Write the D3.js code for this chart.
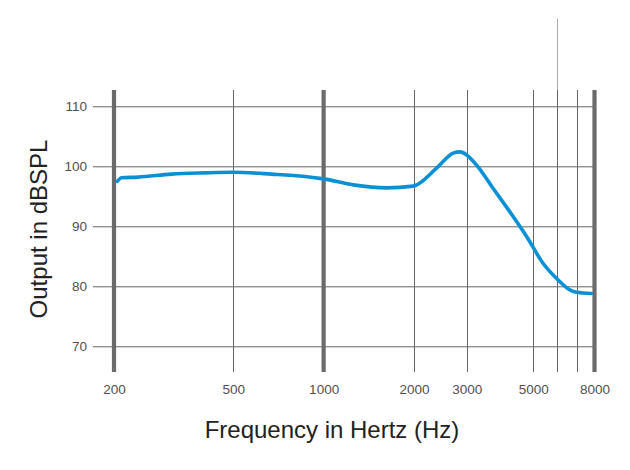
<!DOCTYPE html>
<html>
<head>
<meta charset="utf-8">
<script src="https://cdn.jsdelivr.net/npm/d3@7"></script>
<style>
  html, body { margin: 0; padding: 0; background: #fff; }
  svg { display: block; font-family: "Liberation Sans", Arial, Helvetica, sans-serif; }
</style>
</head>
<body>
<svg id="chart" width="630" height="470"></svg>
<script>
// ---- data ----
const freqHz = [205, 212, 241, 311, 402, 500, 671, 866, 1000, 1256, 1622, 1990, 2380, 2704, 2846, 2998, 3236, 3676, 4178, 4750, 5396, 5980, 6622, 6970, 7820];
const outputDb = [97.5, 98.1, 98.2, 98.7, 98.9, 99.0, 98.7, 98.3, 97.9, 96.9, 96.4, 96.7, 99.7, 102.2, 102.4, 101.9, 100.2, 96.3, 92.4, 88.3, 83.8, 81.3, 79.4, 79.0, 78.8];
const xTickValues = [200, 500, 1000, 2000, 3000, 5000, 8000];
const xThickLines = [200, 1000, 8000];
const xThinLines = [500, 2000, 3000, 5000, 6000, 7000];
const yTickValues = [70, 80, 90, 100, 110];
const xTitle = "Frequency in Hertz (Hz)";
const yTitle = "Output in dBSPL";

// ---- layout ----
const svg = d3.select("#chart");
const x = d3.scaleLog().domain([200, 8000]).range([114, 594.5]);
const y = d3.scaleLinear().domain([70, 110]).range([346.3, 106.3]);
const plotTop = 90, plotBottom = 372, gridLeft = 93, gridRight = 593;

// horizontal grid via axis
const yAxis = d3.axisLeft(y).tickValues(yTickValues).tickSize(-(gridRight - gridLeft)).tickPadding(6);
const gy = svg.append("g").attr("transform", `translate(${gridLeft},0)`).call(yAxis);
gy.select(".domain").remove();
gy.selectAll(".tick line").attr("stroke", "#666").attr("stroke-width", 1);
gy.selectAll(".tick text").attr("fill", "#505050").attr("font-size", 13.5)
  .attr("font-family", "'Liberation Sans', Arial, sans-serif");

// thin vertical lines
svg.append("g").selectAll("line").data(xThinLines).join("line")
  .attr("x1", d => Math.round(x(d)) + 0.5).attr("x2", d => Math.round(x(d)) + 0.5)
  .attr("y1", plotTop).attr("y2", plotBottom)
  .attr("stroke", "#666").attr("stroke-width", 1);

// the 6000 Hz line extends above the plot in lighter gray
svg.append("line")
  .attr("x1", Math.round(x(6000)) + 0.5).attr("x2", Math.round(x(6000)) + 0.5)
  .attr("y1", 19).attr("y2", plotTop)
  .attr("stroke", "#aaa").attr("stroke-width", 1);

// thick vertical lines
svg.append("g").selectAll("line").data(xThickLines).join("line")
  .attr("x1", d => x(d)).attr("x2", d => x(d))
  .attr("y1", plotTop).attr("y2", plotBottom)
  .attr("stroke", "#6b6b6b").attr("stroke-width", 4.2);

// x tick labels via axis
const xAxis = d3.axisBottom(x).tickValues(xTickValues).tickFormat(d3.format("d")).tickSize(0).tickPadding(0);
const gx = svg.append("g").attr("transform", `translate(0,${plotBottom})`).call(xAxis);
gx.select(".domain").remove();
gx.selectAll(".tick text").attr("fill", "#505050").attr("font-size", 13.5).attr("dy", 0).attr("y", 21.5)
  .attr("font-family", "'Liberation Sans', Arial, sans-serif");

// curve
const line = d3.line().x((d, i) => x(freqHz[i])).y(d => y(d)).curve(d3.curveMonotoneX);
svg.append("path").datum(outputDb).attr("d", line)
  .attr("fill", "none").attr("stroke", "#0a90d4").attr("stroke-width", 3.6)
  .attr("stroke-linecap", "round").attr("stroke-linejoin", "round");

// titles
svg.append("text").attr("x", 332).attr("y", 438).attr("text-anchor", "middle")
  .attr("font-size", 24).attr("fill", "#222").text(xTitle);
svg.append("text").attr("transform", "translate(47,229) rotate(-90)").attr("text-anchor", "middle")
  .attr("font-size", 24).attr("fill", "#222").text(yTitle);
</script>
</body>
</html>
